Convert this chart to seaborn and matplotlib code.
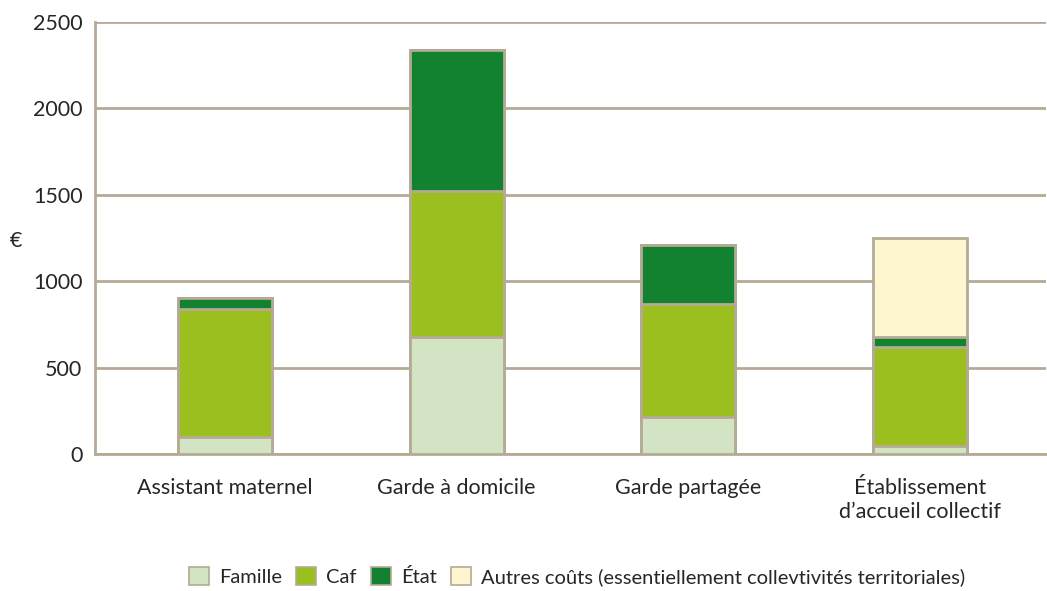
import numpy as np
import pandas as pd
import matplotlib
matplotlib.use("Agg")
from matplotlib import pyplot as plt
from matplotlib.patches import Patch
import seaborn as sns

categories = ["Assistant maternel", "Garde à domicile", "Garde partagée",
              "Établissement\nd’accueil collectif"]
famille = [100, 675, 215, 45]
caf = [740, 845, 655, 575]
etat = [60, 815, 340, 55]
autres = [0, 0, 0, 575]

series = ["Famille", "Caf", "État", "Autres coûts (essentiellement collevtivités territoriales)"]
colors = ["#d2e4c4", "#9abf1f", "#138230", "#fdf6d0"]
EDGE = "#b5aa96"

sns.set_style("white")
plt.rcParams['font.family'] = ['Lato', 'DejaVu Sans']

df = pd.DataFrame({"cat": categories, series[0]: famille, series[1]: caf,
                   series[2]: etat, series[3]: autres})
cum = df[series].cumsum(axis=1)

fig = plt.figure(figsize=(10.47, 5.91), dpi=100)
ax = fig.add_axes([0.0907, 0.2318, 0.9083, 0.731])

# draw from the top layer down so the lower segments sit over the totals
for s, c in zip(series[::-1], colors[::-1]):
    sns.barplot(x=df["cat"], y=cum[s], color=c, saturation=1, width=0.406,
                edgecolor=EDGE, linewidth=2, ax=ax, zorder=3)

ax.set_ylim(0, 2500)
ax.set_xlim(-0.561, 3.543)
ax.set_yticks(np.arange(0, 2501, 500))
ax.yaxis.grid(True, color=EDGE, linewidth=2, zorder=0)
ax.set_axisbelow(True)
for sp in ["top", "right"]:
    ax.spines[sp].set_visible(False)
for sp in ["left", "bottom"]:
    ax.spines[sp].set_color(EDGE)
    ax.spines[sp].set_linewidth(2)
ax.tick_params(axis="y", length=6, width=2, color=EDGE, labelsize=15.5, pad=3)
ax.set_xticks(np.arange(4))
ax.set_xticklabels(categories, linespacing=1.25)
ax.tick_params(axis="x", length=0, labelsize=15.5, pad=17)
ax.set_xticks([-0.561, 0.5, 1.5, 2.5], minor=True)
ax.tick_params(axis="x", which="minor", length=6, width=2, color=EDGE)
ax.set_xlabel("")
ax.set_ylabel("€", rotation=0, fontsize=15.5)
ax.yaxis.set_label_coords(-0.083, 0.47)

handles = [Patch(facecolor=c, edgecolor=EDGE, linewidth=1.2) for c in colors]
fig.legend(handles, series, loc="lower center", bbox_to_anchor=(0.551, -0.022),
           ncol=4, frameon=False, fontsize=14.5, handlelength=1.0,
           handleheight=1.0, handletextpad=0.5, columnspacing=0.7)

fig.savefig("out.png", dpi=100)
